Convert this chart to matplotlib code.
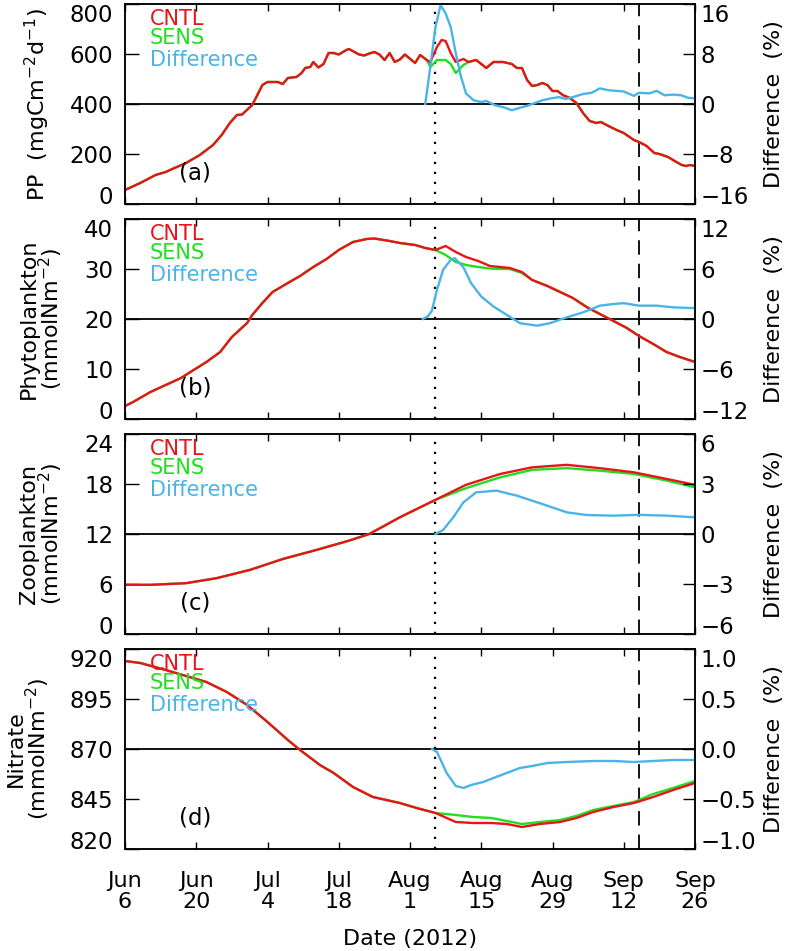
import matplotlib
matplotlib.use('Agg')
import matplotlib.pyplot as plt

plt.rcParams.update({'font.family': 'DejaVu Sans'})
plt.rcParams.update({'font.size': 16})

c_cntl = '#e8141c'
c_sens = '#1ee01e'
c_diff = '#4ab4e6'

# days since 6 Jun 2012
tick_days = [0, 14, 28, 42, 56, 70, 84, 98, 112]
tick_labels = ['Jun\n6', 'Jun\n20', 'Jul\n4', 'Jul\n18', 'Aug\n1',
               'Aug\n15', 'Aug\n29', 'Sep\n12', 'Sep\n26']
day_dot = 61
day_dash = 101

#%% (a) primary production
pp_day = [0, 3, 6, 8, 9.5, 12, 14.7, 17.3, 19, 20.6, 22, 23, 25, 26, 27, 28, 30, 31, 32,
          33.7, 34.7, 35.4, 36.4, 37, 38, 39, 40, 41, 42, 43.5, 44, 46, 47, 48, 49, 50,
          51, 52, 53, 54, 55, 57, 58, 59.3, 60, 61.3, 62.2, 63, 64, 65, 66.5, 67.5, 69,
          71, 72.4, 74.3, 76, 77, 78, 79, 80, 81, 82, 83, 84, 85, 86, 87.4, 88.7, 90,
          91.3, 92.6, 93.5, 95, 96.6, 98, 100, 101, 102.5, 104, 105, 106.7, 108, 109.4,
          110.3, 111, 112]
pp_cntl = [56, 84, 116, 128, 142, 164, 196, 236, 276, 324, 356, 358, 396, 436, 476, 488,
           488, 480, 504, 508, 524, 544, 548, 568, 546, 560, 604, 604, 598, 616, 620, 598,
           594, 602, 608, 598, 576, 604, 568, 578, 598, 564, 596, 576, 568, 628, 656, 652,
           604, 568, 580, 568, 576, 544, 568, 568, 560, 544, 544, 496, 472, 476, 484, 476,
           452, 452, 436, 424, 404, 364, 332, 324, 328, 312, 296, 284, 256, 248, 232, 204,
           200, 188, 172, 156, 152, 156, 152]
pp_sens_mid = [548, 576, 576, 576, 560, 524, 556, 568]   # days 60 - 67.5
pp_sens = pp_cntl[:44] + pp_sens_mid + pp_cntl[52:]
pp_diff_day = [59, 60, 61, 62, 63, 64, 65, 66, 67, 68.5, 70, 71, 72.7, 74.3, 76, 77.6, 79,
               81, 82, 83.7, 85.3, 86.6, 88.4, 90, 91.7, 93.3, 95, 96.6, 98, 100, 101, 103,
               104.5, 106, 107.7, 109.3, 110.6, 112]
pp_diff = [0, 6, 12.3, 15.8, 14.5, 12.3, 8.1, 4.4, 1.7, 0.6, 0.3, 0.5, -0.2, -0.5, -1,
           -0.6, -0.3, 0.3, 0.6, 0.9, 1.1, 0.8, 1.2, 1.6, 1.8, 2.5, 2.2, 2.1, 2.0, 1.3,
           1.8, 1.7, 2.1, 1.4, 1.5, 1.4, 1.0, 0.9]

#%% (b) phytoplankton
phy_day = [0, 1.6, 5, 8, 11, 13.5, 16, 18.7, 21, 24, 25, 27, 29, 32, 34.4, 37, 39.6, 42,
           44.8, 47.5, 49, 52, 54, 57, 59, 61, 63, 65, 67, 69.4, 71.7, 73.7, 75.6, 78, 80,
           83, 85.5, 88, 90.7, 93.3, 96, 98.6, 101, 103.8, 106.4, 109, 112]
phy_cntl = [2.6, 3.4, 5.4, 6.8, 8.2, 9.8, 11.4, 13.4, 16.4, 19.2, 20.8, 23.2, 25.4, 27.2,
            28.6, 30.4, 32, 33.8, 35.4, 36, 36.1, 35.6, 35.2, 34.8, 34.2, 33.8, 34.6, 33.4,
            32.4, 31.6, 30.6, 30.4, 30.2, 29.4, 27.8, 26.6, 25.4, 24.2, 22.4, 21, 19.6,
            18.2, 16.6, 15, 13.4, 12.4, 11.4]
phy_sens_mid = [32.8, 31.4, 30.8, 30.4, 30.1, 30.0, 30.0, 29.2]   # days 63 - 78
phy_sens = phy_cntl[:26] + phy_sens_mid + phy_cntl[34:]
phy_diff_day = [58.5, 59.5, 60.3, 61.3, 62.5, 64, 64.8, 66.5, 68, 70, 72.4, 75, 77.6, 81,
                83.5, 86.8, 90, 93.3, 96, 98, 101, 104.5, 107.7, 112]
phy_diff = [0, 0.3, 1.0, 3.5, 5.9, 7.1, 7.3, 6.2, 4.3, 2.7, 1.5, 0.5, -0.5, -0.8, -0.5,
            0.2, 0.8, 1.6, 1.8, 1.9, 1.6, 1.6, 1.4, 1.3]

#%% (c) zooplankton
zoo_day = [0, 5, 12, 18, 24.6, 31, 37.7, 44, 48, 54, 61, 67, 73.7, 80, 86.8, 93.3, 100,
           106.5, 112]
zoo_cntl = [5.9, 5.9, 6.1, 6.7, 7.7, 9.0, 10.1, 11.2, 12.0, 14.0, 16.1, 17.9, 19.2, 20.0,
            20.3, 19.9, 19.4, 18.6, 17.9]
zoo_sens_mid = [17.5, 18.8, 19.7, 19.9, 19.6, 19.2, 18.4, 17.6]   # days 67 - 112
zoo_sens = zoo_cntl[:11] + zoo_sens_mid
zoo_diff_day = [61, 62.5, 64.5, 66.5, 69, 73, 77, 81.5, 86.8, 90.7, 96, 101, 106.5, 112]
zoo_diff = [0, 0.24, 1.0, 1.9, 2.5, 2.6, 2.3, 1.85, 1.3, 1.14, 1.1, 1.15, 1.1, 1.0]

#%% (d) nitrate
nit_day = [0, 3, 8, 12, 16, 20, 24, 28, 32, 34.4, 38.3, 41, 44.8, 48.7, 54, 57.3, 61, 65,
           68.4, 72, 75, 78, 81.5, 85.5, 88.7, 92, 96, 100, 103.8, 107.7, 112]
nit_cntl = [914, 913, 909.5, 906.5, 903.5, 898.5, 892, 883.5, 874.5, 869.5, 862, 858, 851,
            846, 843, 840.5, 838, 833.5, 833, 833, 832.5, 831, 832.5, 833.5, 835.5, 838.5,
            841, 843, 846, 849.5, 853]
nit_sens_mid = [837, 836, 835.5, 834, 832.5, 833.5, 834.5, 836.5, 839.5, 841.5, 843.5,
                847.5, 850.5, 854]   # days 65 - 112
nit_sens = nit_cntl[:17] + nit_sens_mid
nit_diff_day = [60.3, 61.3, 63.2, 65, 66.5, 68, 70.4, 72.4, 75, 77.6, 80, 83, 86.8, 92, 96,
                100, 103.8, 107.7, 112]
nit_diff = [0, -0.03, -0.24, -0.37, -0.39, -0.36, -0.33, -0.29, -0.24, -0.19, -0.17, -0.14,
            -0.13, -0.12, -0.12, -0.13, -0.12, -0.11, -0.11]

panels = [
    dict(day=pp_day, cntl=pp_cntl, sens=pp_sens, dday=pp_diff_day, diff=pp_diff,
         ylim=(0, 800), yticks=[0, 200, 400, 600, 800], rlim=(-16, 16),
         rticks=[-16, -8, 0, 8, 16], rfmt='{:g}', ylabel='PP  (mgCm$^{-2}$d$^{-1}$)',
         labx=37, tag='(a)'),
    dict(day=phy_day, cntl=phy_cntl, sens=phy_sens, dday=phy_diff_day, diff=phy_diff,
         ylim=(0, 40), yticks=[0, 10, 20, 30, 40], rlim=(-12, 12),
         rticks=[-12, -6, 0, 6, 12], rfmt='{:g}', ylabel='Phytoplankton\n(mmolNm$^{-2}$)',
         labx=42, tag='(b)'),
    dict(day=zoo_day, cntl=zoo_cntl, sens=zoo_sens, dday=zoo_diff_day, diff=zoo_diff,
         ylim=(0, 24), yticks=[0, 6, 12, 18, 24], rlim=(-6, 6),
         rticks=[-6, -3, 0, 3, 6], rfmt='{:g}', ylabel='Zooplankton\n(mmolNm$^{-2}$)',
         labx=42, tag='(c)'),
    dict(day=nit_day, cntl=nit_cntl, sens=nit_sens, dday=nit_diff_day, diff=nit_diff,
         ylim=(820, 920), yticks=[820, 845, 870, 895, 920], rlim=(-1, 1),
         rticks=[-1, -0.5, 0, 0.5, 1], rfmt='{:.1f}', ylabel='Nitrate\n(mmolNm$^{-2}$)',
         labx=29, tag='(d)'),
]

fig = plt.figure(figsize=(8, 9.51), dpi=100)
W, H = 800, 951
left, width = 125 / W, 570 / W
tops = [4, 219, 434, 649]

for i, p in enumerate(panels):
    top = tops[i]
    ax = fig.add_axes([left, 1 - (top + 200) / H, width, 200 / H])
    ax2 = ax.twinx()

    lo, hi = p['ylim']
    ax.axhline((lo + hi) / 2, color='k', lw=1.3)
    ax.axvline(day_dot, color='k', lw=1.6, ls=(0, (1, 3.5)))
    ax.axvline(day_dash, color='k', lw=1.3, ls=(0, (8, 5)))
    ax.plot(p['day'], p['sens'], color=c_sens, lw=1.7)
    ax.plot(p['day'], p['cntl'], color=c_cntl, lw=1.7)
    ax2.plot(p['dday'], p['diff'], color=c_diff, lw=1.7)

    ax.set_xlim(0, 112)
    ax.set_ylim(lo, hi)
    ax2.set_ylim(*p['rlim'])
    ax.set_xticks(tick_days)
    if i == 3:
        ax.set_xticklabels(tick_labels, linespacing=1.1, fontsize=16)
        ax.set_xlabel('Date (2012)', labelpad=12, fontsize=16)
    else:
        ax.set_xticklabels([])
    ax.tick_params(axis='x', direction='in', length=5, width=1, top=True, pad=15.5)
    ax.tick_params(axis='y', direction='in', length=10, width=1, right=False, pad=8.5)
    ax2.tick_params(axis='y', direction='in', length=9, width=1, pad=4)

    ax.set_yticks(p['yticks'])
    ylabs = ax.set_yticklabels([str(v) for v in p['yticks']], fontsize=16.5)
    ylabs[0].set_va('baseline')
    ylabs[-1].set_va('top')
    ax2.set_yticks(p['rticks'])
    rlabs = ax2.set_yticklabels([p['rfmt'].format(v).replace('-', '\u2212')
                                 for v in p['rticks']], fontsize=16.5)
    rlabs[0].set_va('baseline')
    rlabs[-1].set_va('top')

    yc = 1 - (top + 100) / H
    fig.text(p['labx'] / W, yc, p['ylabel'], rotation=90, ha='center', va='center',
             fontsize=16, linespacing=0.9)
    fig.text(774 / W, yc, 'Difference  (%)', rotation=90, ha='center', va='center',
             fontsize=16)

    ax.text(0.044, 0.925, 'CNTL', color=c_cntl, fontsize=15, transform=ax.transAxes,
            va='center')
    ax.text(0.044, 0.83, 'SENS', color=c_sens, fontsize=15, transform=ax.transAxes,
            va='center')
    ax.text(0.044, 0.72, 'Difference', color=c_diff, fontsize=15,
            transform=ax.transAxes, va='center')
    ax.text(0.123, 0.155, p['tag'], fontsize=16.5, transform=ax.transAxes,
            ha='center', va='center')

    for a in (ax, ax2):
        for s in a.spines.values():
            s.set_linewidth(1.1)

fig.savefig('out.png', dpi=100)
